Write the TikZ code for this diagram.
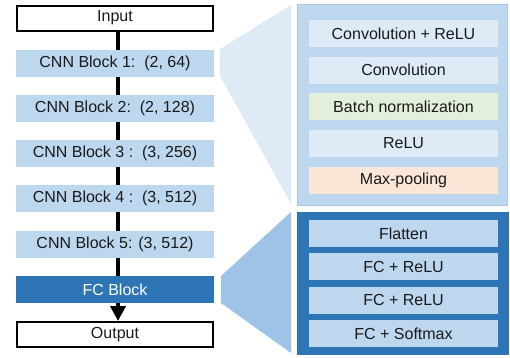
\documentclass[tikz,border=0pt]{standalone}
\usepackage{fontspec}
\setmainfont{Liberation Sans}
\usetikzlibrary{arrows.meta,backgrounds}
\definecolor{cnnblue}{HTML}{BDD7EE}
\definecolor{fcblue}{HTML}{2E75B6}
\definecolor{paleblue}{HTML}{DEEBF7}
\definecolor{midblue}{HTML}{9DC3E6}
\definecolor{panelborder}{HTML}{AAC6E6}
\definecolor{bngreen}{HTML}{E2EFDA}
\definecolor{mporange}{HTML}{FBE5D6}
\definecolor{txt}{HTML}{1A1A1A}
\tikzset{
  base/.style={inner sep=0pt, text=txt, font=\fontsize{16}{19}\selectfont},
  iobox/.style={base, draw=black, line width=2pt, fill=white, minimum width=196pt, minimum height=25pt},
  cnnbox/.style={base, fill=cnnblue, minimum width=198pt, minimum height=27pt},
  fcbox/.style={base, fill=fcblue, text=white, minimum width=198pt, minimum height=27pt},
  inbox/.style={base, minimum width=189pt, minimum height=27pt},
}
\begin{document}
\begin{tikzpicture}[x=1pt,y=-1pt]
\useasboundingbox (0,0) rectangle (510,357);
% trapezoids
\fill[paleblue] (220,49) -- (291,5) -- (291,204) -- (220,76) -- cycle;
\fill[midblue] (221,276) -- (291,212) -- (291,353) -- (221,303) -- cycle;
% panels
\node[draw=panelborder, line width=1pt, fill=cnnblue, minimum width=210pt, minimum height=201pt, inner sep=0pt] (cnnpanel) at (402.5,105) {};
\node[fill=fcblue, minimum width=212pt, minimum height=143pt, inner sep=0pt] (fcpanel) at (403,283.5) {};
% upper inner boxes
\node[inbox, fill=paleblue] (c1) at (403.5,33.5) {Convolution + ReLU};
\node[inbox, fill=paleblue] (c2) at (403.5,70) {Convolution};
\node[inbox, fill=bngreen] (c3) at (403.5,106.5) {Batch normalization};
\node[inbox, fill=paleblue] (c4) at (403.5,143.5) {ReLU};
\node[inbox, fill=mporange] (c5) at (403.5,180.5) {Max-pooling};
% lower inner boxes
\node[inbox, fill=cnnblue] (f1) at (403.5,233.5) {Flatten};
\node[inbox, fill=cnnblue] (f2) at (403.5,266.5) {FC + ReLU};
\node[inbox, fill=cnnblue] (f3) at (403.5,300) {FC + ReLU};
\node[inbox, fill=cnnblue] (f4) at (403.5,333.5) {FC + Softmax};
% left column
\node[iobox] (in) at (115,18) {Input};
\node[cnnbox] (b1) at (115,63.5) {CNN Block 1:\ \ (2, 64)};
\node[cnnbox] (b2) at (115,108.5) {CNN Block 2:\ \ (2, 128)};
\node[cnnbox] (b3) at (115,153.5) {CNN Block 3 :\ \ (3, 256)};
\node[cnnbox] (b4) at (115,198.5) {CNN Block 4 :\ \ (3, 512)};
\node[cnnbox] (b5) at (115,244.5) {CNN Block 5: (3, 512)};
\node[fcbox] (fc) at (115,289.5) {FC Block};
\node[iobox] (out) at (115,334.5) {Output};
\begin{scope}[on background layer]
\draw[line width=4.5pt, -{Triangle[width=15pt,length=15pt]}] ([xshift=3pt]in.south) -- ([xshift=3pt]out.north);
\end{scope}
\end{tikzpicture}
\end{document}
